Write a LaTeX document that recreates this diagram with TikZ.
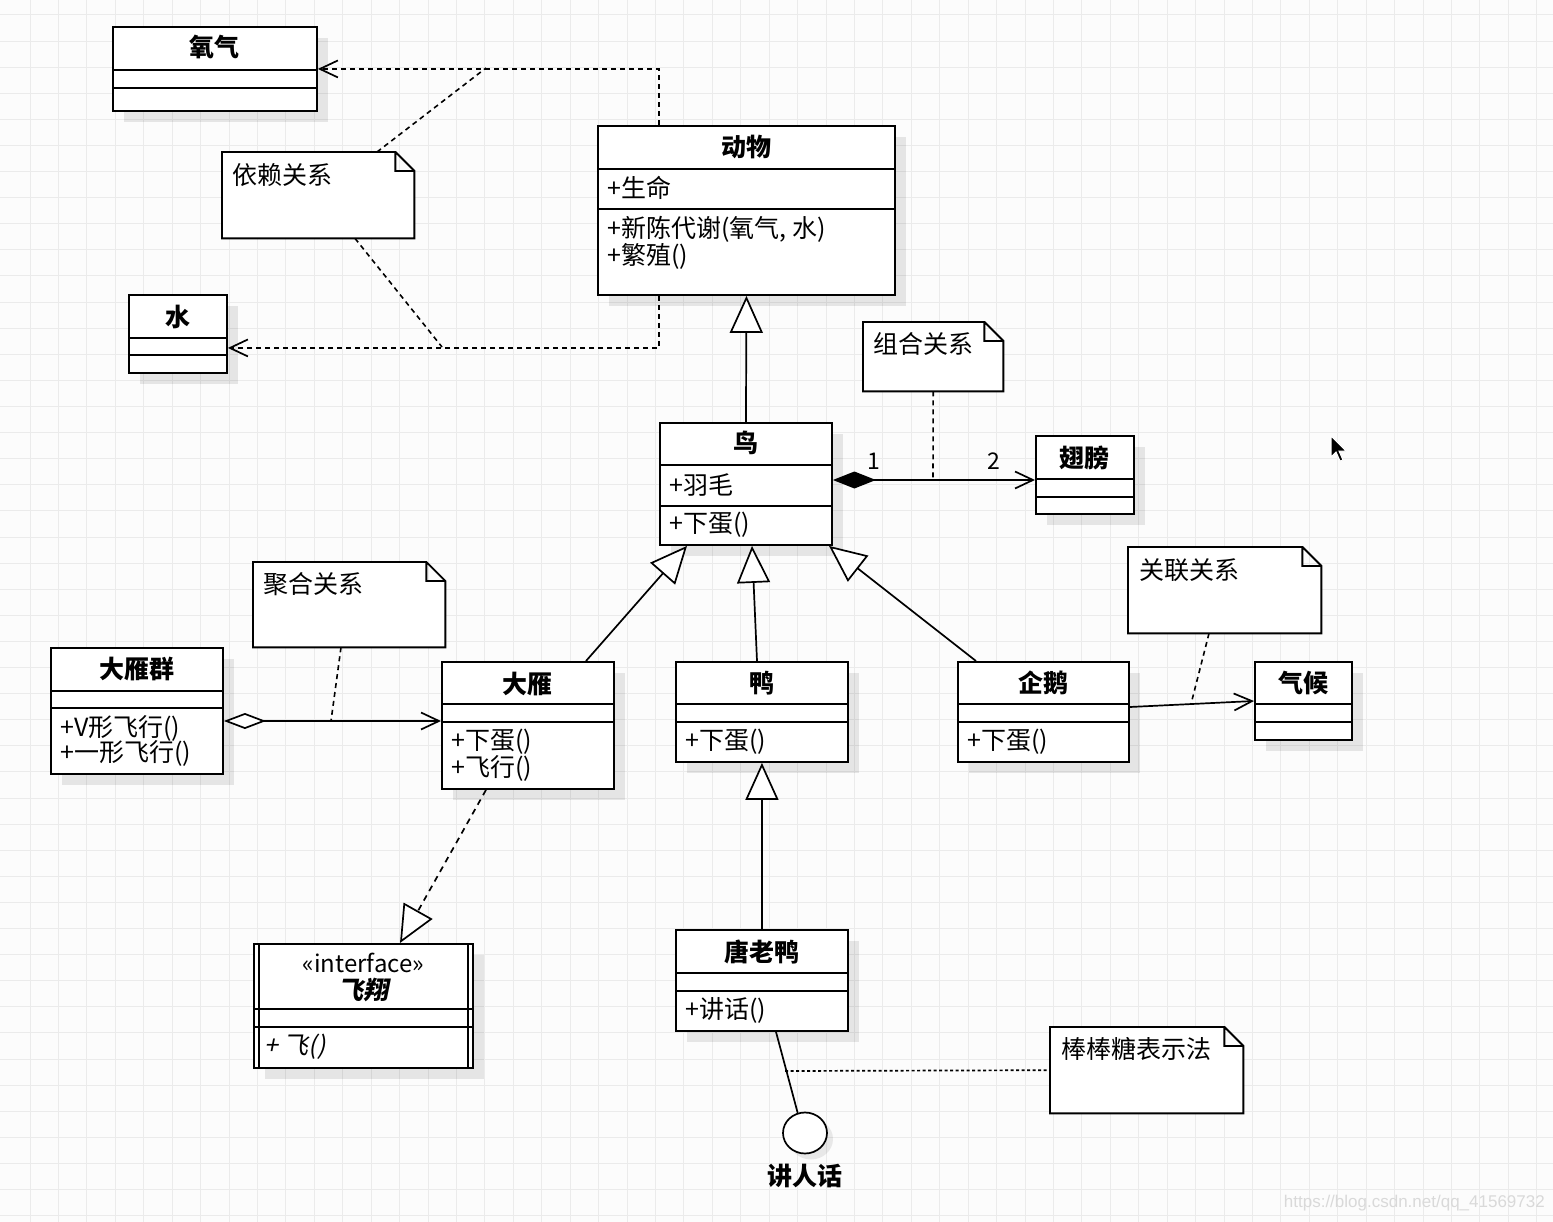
\documentclass[tikz,border=0pt]{standalone}
\usepackage{fontspec}
\setmainfont{Noto Sans CJK SC}
\newfontfamily\slantfont{Noto Sans CJK SC}[FakeSlant=0.2]
\newfontfamily\markfont{Liberation Sans}
\usetikzlibrary{arrows.meta,shadows,shapes.geometric}
\newcommand\umlfont{\fontsize{25}{29}\selectfont}
\definecolor{paper}{HTML}{FCFCFC}
\definecolor{gridgray}{HTML}{EBEBEB}

\tikzset{
  cls/.style={draw, line width=1.9pt, fill=white, inner sep=0pt, anchor=north west,
    drop shadow={shadow xshift=11pt, shadow yshift=-11pt, fill=black, opacity=0.09}},
  clstitle/.style={inner sep=0pt, font=\umlfont\bfseries},
  member/.style={anchor=west, inner sep=0pt, font=\umlfont},
  sep/.style={line width=1.9pt},
  notebox/.style={inner sep=0pt, anchor=north west},
  noteedge/.style={line width=1.9pt, fill=white},
  notetext/.style={anchor=north west, inner sep=0pt, font=\umlfont},
  gen/.style={line width=1.7pt, -{Triangle[open, fill=white, length=37pt, width=33pt]}},
  real/.style={gen, dash pattern=on 6pt off 5pt},
  dep/.style={line width=1.7pt, dash pattern=on 5pt off 4pt, -{Straight Barb[length=18pt, width=17pt]}},
  assoc/.style={line width=1.7pt, -{Straight Barb[length=18pt, width=17pt]}},
  comp/.style={line width=1.7pt, {Diamond[length=43pt, width=17pt]}-{Straight Barb[length=18pt, width=17pt]}},
  aggr/.style={line width=1.7pt, {Diamond[open, fill=white, length=42pt, width=16pt]}-{Straight Barb[length=18pt, width=17pt]}},
  notelink/.style={line width=1.6pt, dash pattern=on 5pt off 4pt},
  dotlink/.style={line width=1.7pt, dash pattern=on 3pt off 2.5pt},
  gridline/.style={gridgray, line width=1pt}
}

\begin{document}
\begin{tikzpicture}[x=1pt, y=-1pt]

% paper and grid
\fill[paper] (0,0) rectangle (1553,1222);
\useasboundingbox (0,0) rectangle (1553,1222);
\foreach \gx in {30,58.43,...,1553} \draw[gridline] (\gx,0) -- (\gx,1222);
\foreach \gy in {15,41.1,...,1222} \draw[gridline] (0,\gy) -- (1553,\gy);

% notes
\node[notebox, minimum width=192, minimum height=86] (yilai) at (222,152) {};
\node[notebox, minimum width=140, minimum height=69] (zuhe) at (863,322) {};
\node[notebox, minimum width=192, minimum height=85] (juhe) at (253,562) {};
\node[notebox, minimum width=193, minimum height=86] (guanlian) at (1128,547) {};
\node[notebox, minimum width=193, minimum height=86] (bangbang) at (1050,1027) {};
\foreach \n in {yilai,zuhe,juhe,guanlian,bangbang}
  \filldraw[noteedge] (\n.north west) -- ([xshift=-19pt]\n.north east) -- ([yshift=-19pt]\n.north east)
    -- (\n.south east) -- (\n.south west) -- cycle
    ([xshift=-19pt]\n.north east) |- ([yshift=-19pt]\n.north east);
\node[notetext] at ([xshift=10pt,yshift=-11pt]yilai.north west) {依赖关系};
\node[notetext] at ([xshift=10pt,yshift=-10pt]zuhe.north west) {组合关系};
\node[notetext] at ([xshift=10pt,yshift=-10pt]juhe.north west) {聚合关系};
\node[notetext] at ([xshift=11pt,yshift=-11pt]guanlian.north west) {关联关系};
\node[notetext] at ([xshift=11pt,yshift=-10pt]bangbang.north west) {棒棒糖表示法};

% classes
\node[cls, minimum width=204, minimum height=84] (yangqi) at (112,26) {};
\node[clstitle] at ([yshift=-21pt]yangqi.north) {氧气};
\draw[sep] ([yshift=-44pt]yangqi.north west) -- ([yshift=-44pt]yangqi.north east);
\draw[sep] ([yshift=-62pt]yangqi.north west) -- ([yshift=-62pt]yangqi.north east);

\node[cls, minimum width=98, minimum height=78] (shui) at (128,294) {};
\node[clstitle] at ([yshift=-23pt]shui.north) {水};
\draw[sep] ([yshift=-44pt]shui.north west) -- ([yshift=-44pt]shui.north east);
\draw[sep] ([yshift=-61pt]shui.north west) -- ([yshift=-61pt]shui.north east);

\node[cls, minimum width=297, minimum height=169] (dongwu) at (597,125) {};
\node[clstitle] at ([yshift=-22pt]dongwu.north) {动物};
\draw[sep] ([yshift=-44pt]dongwu.north west) -- ([yshift=-44pt]dongwu.north east);
\draw[sep] ([yshift=-84pt]dongwu.north west) -- ([yshift=-84pt]dongwu.north east);
\node[member] at ([xshift=10pt,yshift=-63pt]dongwu.north west) {+生命};
\node[member] at ([xshift=10pt,yshift=-104pt]dongwu.north west) {+新陈代谢(氧气, 水)};
\node[member] at ([xshift=10pt,yshift=-131pt]dongwu.north west) {+繁殖()};

\node[cls, minimum width=172, minimum height=122] (niao) at (659,422) {};
\node[clstitle] at ([yshift=-21pt]niao.north) {鸟};
\draw[sep] ([yshift=-43pt]niao.north west) -- ([yshift=-43pt]niao.north east);
\draw[sep] ([yshift=-84pt]niao.north west) -- ([yshift=-84pt]niao.north east);
\node[member] at ([xshift=10pt,yshift=-63pt]niao.north west) {+羽毛};
\node[member] at ([xshift=10pt,yshift=-103pt]niao.north west) {+下蛋()};

\node[cls, minimum width=98, minimum height=78] (chibang) at (1035,435) {};
\node[clstitle] at ([yshift=-23pt]chibang.north) {翅膀};
\draw[sep] ([yshift=-44pt]chibang.north west) -- ([yshift=-44pt]chibang.north east);
\draw[sep] ([yshift=-62pt]chibang.north west) -- ([yshift=-62pt]chibang.north east);

\node[cls, minimum width=172, minimum height=126] (dayanqun) at (50,647) {};
\node[clstitle] at ([yshift=-22pt]dayanqun.north) {大雁群};
\draw[sep] ([yshift=-44pt]dayanqun.north west) -- ([yshift=-44pt]dayanqun.north east);
\draw[sep] ([yshift=-61pt]dayanqun.north west) -- ([yshift=-61pt]dayanqun.north east);
\node[member] at ([xshift=10pt,yshift=-81pt]dayanqun.north west) {+V形飞行()};
\node[member] at ([xshift=10pt,yshift=-106pt]dayanqun.north west) {+一形飞行()};

\node[cls, minimum width=172, minimum height=127] (dayan) at (441,661) {};
\node[clstitle] at ([yshift=-23pt]dayan.north) {大雁};
\draw[sep] ([yshift=-43pt]dayan.north west) -- ([yshift=-43pt]dayan.north east);
\draw[sep] ([yshift=-61pt]dayan.north west) -- ([yshift=-61pt]dayan.north east);
\node[member] at ([xshift=10pt,yshift=-81pt]dayan.north west) {+下蛋()};
\node[member] at ([xshift=10pt,yshift=-107pt]dayan.north west) {+飞行()};

\node[cls, minimum width=172, minimum height=100] (ya) at (675,661) {};
\node[clstitle] at ([yshift=-22pt]ya.north) {鸭};
\draw[sep] ([yshift=-43pt]ya.north west) -- ([yshift=-43pt]ya.north east);
\draw[sep] ([yshift=-61pt]ya.north west) -- ([yshift=-61pt]ya.north east);
\node[member] at ([xshift=10pt,yshift=-81pt]ya.north west) {+下蛋()};

\node[cls, minimum width=171, minimum height=100] (qie) at (957,661) {};
\node[clstitle] at ([yshift=-22pt]qie.north) {企鹅};
\draw[sep] ([yshift=-43pt]qie.north west) -- ([yshift=-43pt]qie.north east);
\draw[sep] ([yshift=-61pt]qie.north west) -- ([yshift=-61pt]qie.north east);
\node[member] at ([xshift=10pt,yshift=-81pt]qie.north west) {+下蛋()};

\node[cls, minimum width=97, minimum height=78] (qihou) at (1254,661) {};
\node[clstitle] at ([yshift=-22pt]qihou.north) {气候};
\draw[sep] ([yshift=-43pt]qihou.north west) -- ([yshift=-43pt]qihou.north east);
\draw[sep] ([yshift=-61pt]qihou.north west) -- ([yshift=-61pt]qihou.north east);

\node[cls, minimum width=219, minimum height=124] (feixiang) at (253,943) {};
\draw[sep] ([xshift=6pt]feixiang.north west) -- ([xshift=6pt]feixiang.south west);
\draw[sep] ([xshift=-6pt]feixiang.north east) -- ([xshift=-6pt]feixiang.south east);
\node[inner sep=0pt, font=\fontsize{24}{28}\selectfont] at ([yshift=-20pt]feixiang.north) {«interface»};
\node[inner sep=0pt, font=\umlfont\slantfont\bfseries] at ([yshift=-47pt]feixiang.north) {飞翔};
\draw[sep] ([yshift=-66pt]feixiang.north west) -- ([yshift=-66pt]feixiang.north east);
\draw[sep] ([yshift=-84pt]feixiang.north west) -- ([yshift=-84pt]feixiang.north east);
\node[member, font=\umlfont\slantfont] at ([xshift=11pt,yshift=-104pt]feixiang.north west) {+ 飞()};

\node[cls, minimum width=172, minimum height=101] (tanglaoya) at (675,929) {};
\node[clstitle] at ([yshift=-23pt]tanglaoya.north) {唐老鸭};
\draw[sep] ([yshift=-44pt]tanglaoya.north west) -- ([yshift=-44pt]tanglaoya.north east);
\draw[sep] ([yshift=-62pt]tanglaoya.north west) -- ([yshift=-62pt]tanglaoya.north east);
\node[member] at ([xshift=10pt,yshift=-81pt]tanglaoya.north west) {+讲话()};

% lollipop interface
\node[ellipse, draw, line width=1.7pt, fill=white, minimum width=44, minimum height=41, inner sep=0pt,
  drop shadow={shadow xshift=6pt, shadow yshift=-6pt, fill=black, opacity=0.08}] (jianghua) at (805,1133) {};
\node[clstitle] (jianghualabel) at (805,1176) {讲人话};

% relations
\coordinate (depup) at (486,68);
\coordinate (depdown) at (442,347);
\coordinate (compmid) at (933,480);
\coordinate (aggrmid) at (331,721);
\coordinate (assocmid) at (1191,704);
\coordinate (lolmid) at (785,1071);

\draw[dep] ([xshift=62pt]dongwu.north west) |- (yangqi.east);
\draw[dep] ([xshift=62pt]dongwu.south west) |- ([yshift=-14pt]shui.east);
\draw[notelink] ([xshift=155pt]yilai.north west) -- (depup);
\draw[notelink] ([xshift=133pt]yilai.south west) -- (depdown);

\draw[gen] (niao.north) -- (dongwu.south);
\draw[comp] ([yshift=-58pt]niao.north east) -- ([yshift=-45pt]chibang.north west);
\node[font=\fontsize{23}{27}\selectfont] (multone) at (874,461) {1};
\node[font=\fontsize{23}{27}\selectfont] (multtwo) at (994,461) {2};
\draw[notelink] (zuhe.south) -- (compmid);

\draw[gen] ([xshift=145pt]dayan.north west) -- ([xshift=28pt]niao.south west);
\draw[gen] ([xshift=82pt]ya.north west) -- ([xshift=93pt]niao.south west);
\draw[gen] ([xshift=19pt]qie.north west) -- ([xshift=170pt]niao.south west);

\draw[aggr] ([yshift=-74pt]dayanqun.north east) -- ([yshift=-60pt]dayan.north west);
\draw[notelink] ([xshift=88pt]juhe.south west) -- (aggrmid);

\draw[assoc] ([yshift=-46pt]qie.north east) -- ([yshift=-40pt]qihou.north west);
\draw[notelink] ([xshift=81pt]guanlian.south west) -- (assocmid);

\draw[real] ([xshift=45pt]dayan.south west) -- ([xshift=147pt]feixiang.north west);
\draw[gen] (tanglaoya.north) -- (ya.south);

\draw[line width=1.7pt] ([xshift=101pt]tanglaoya.south west) -- (jianghua.110);
\draw[dotlink] (lolmid) -- (bangbang.west);

% pointer and watermark
\filldraw[fill=black, draw=white, line width=1pt] (1331,436) -- (1331,457) -- (1336,452)
  -- (1340,461) -- (1343,460) -- (1339,451) -- (1346,451) -- cycle;
\node[anchor=east, inner sep=0pt, text=black!15, font=\markfont\fontsize{17}{20}\selectfont]
  (csdnmark) at (1545,1203) {https://blog.csdn.net/qq\_41569732};

\end{tikzpicture}
\end{document}
